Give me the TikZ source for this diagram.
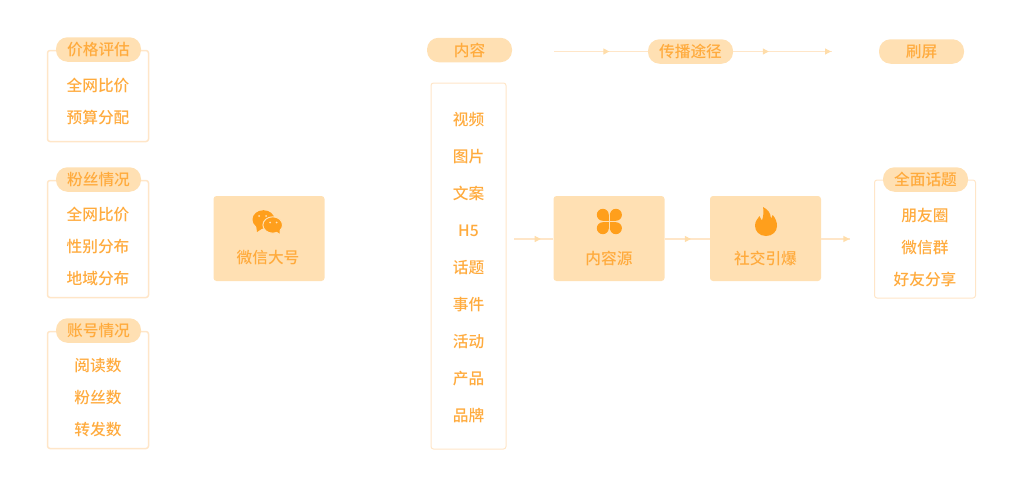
\documentclass[tikz,border=0pt]{standalone}
\usepackage{fontspec}
\setmainfont{Noto Sans CJK SC Medium}
\usetikzlibrary{decorations.markings,arrows.meta}
\definecolor{softfill}{HTML}{FFE0B3}
\definecolor{softline}{HTML}{FFE6C8}
\definecolor{softtip}{HTML}{FFDDAA}
\definecolor{labeltext}{HTML}{FFAB3D}
\definecolor{iconfill}{HTML}{FF9F1C}
\tikzset{
    x=1pt, y=-1pt,
    framebox/.style={draw=softline, line width=1.5pt, rounded corners=2.5pt, fill=white, inner sep=0pt},
    tagpill/.style={fill=softfill, rounded corners=11.5pt, minimum width=85pt, minimum height=24.5pt, inner sep=0pt, text=labeltext},
    mainbox/.style={fill=softfill, rounded corners=3pt, minimum width=111pt, minimum height=85pt, inner sep=0pt},
    itemtext/.style={text=labeltext, inner sep=0pt},
    flowline/.style={draw=softline, line width=1.2pt},
    midtip/.style={postaction={decorate, decoration={markings,
        mark=at position #1 with {\arrow[softtip]{Triangle[length=6pt,width=6pt]}}}}}
}
\newcommand{\textsizing}{\fontsize{15.7}{18}\selectfont}

\begin{document}
\begin{tikzpicture}[every node/.append style={font=\textsizing}]

    \useasboundingbox (0,0) rectangle (1024,479);

    % Left frames with their pills
    \node[framebox, minimum width=101pt, minimum height=91pt] (priceframe) at (98,96) {};
    \node[tagpill] (pricetag) at (98.5,49.5) {价格评估};
    \node[itemtext] (price1) at (98,86) {全网比价};
    \node[itemtext] (price2) at (98,118) {预算分配};

    \node[framebox, minimum width=101pt, minimum height=117pt] (fansframe) at (98,239) {};
    \node[tagpill] (fanstag) at (98.5,179.5) {粉丝情况};
    \foreach \i/\t/\y in {1/全网比价/215, 2/性别分布/247, 3/地域分布/279}{
        \node[itemtext] (fans\i) at (98,\y) {\t};
    }

    \node[framebox, minimum width=101pt, minimum height=117pt] (acctframe) at (98,390) {};
    \node[tagpill] (accttag) at (98.5,330.5) {账号情况};
    \foreach \i/\t/\y in {1/阅读数/366, 2/粉丝数/398, 3/转发数/430}{
        \node[itemtext] (acct\i) at (98,\y) {\t};
    }

    % Main boxes
    \node[mainbox] (wechatbox) at (269,238.5) {};
    \node[mainbox] (sourcebox) at (609,238.5) {};
    \node[mainbox] (burstbox) at (765.5,238.5) {};
    \node[itemtext] (wechatlabel) at (268,258) {微信大号};
    \node[itemtext] (sourcelabel) at (609,258) {内容源};
    \node[itemtext] (burstlabel) at (765.5,258) {社交引爆};

    % Content column
    \node[framebox, draw=softline, line width=1pt, minimum width=75pt, minimum height=366pt] (contentframe) at (468.5,266) {};
    \node[tagpill] (contenttag) at (469.5,50) {内容};
    \foreach \i/\t in {1/视频, 2/图片, 3/文案, 4/H5, 5/话题, 6/事件, 7/活动, 8/产品, 9/品牌}{
        \node[itemtext] (content\i) at (468.5,{119.5+37*(\i-1)}) {\t};
    }

    % Top row
    \node[tagpill] (pathtag) at (690.5,51.5) {传播途径};
    \node[tagpill] (scrolltag) at (921.5,51.5) {刷屏};
    \coordinate (pathstart) at (554,51.5);
    \coordinate (pathend) at (832,51.5);
    \draw[flowline, midtip=0.59] (pathstart) -- (pathtag.west);
    \draw[flowline, midtip=0.36, midtip=0.99] (pathtag.east) -- (pathend);

    % Right frame
    \node[framebox, line width=1pt, minimum width=101pt, minimum height=118pt] (topicframe) at (925,239) {};
    \node[tagpill] (topictag) at (925.5,179.5) {全面话题};
    \foreach \i/\t/\y in {1/朋友圈/216, 2/微信群/247.5, 3/好友分享/279}{
        \node[itemtext] (topic\i) at (925,\y) {\t};
    }

    % Flow connectors
    \coordinate (flowstart) at (514,239);
    \coordinate (flowend) at (850,239);
    \draw[flowline, midtip=0.68] (flowstart) -- (sourcebox.west |- flowstart);
    \draw[flowline, midtip=0.58] (sourcebox.east |- flowstart) -- (burstbox.west |- flowstart);
    \draw[flowline, midtip=0.98] (burstbox.east |- flowstart) -- (flowend);

    % Wechat icon
    \fill[iconfill] (263.5,219.5) ellipse (11pt and 9.3pt);
    \fill[iconfill] (256,225) -- (257,232) -- (263,228) -- cycle;
    \fill[iconfill, draw=softfill, line width=1pt] (272.7,225) ellipse (9.8pt and 8.2pt);
    \fill[iconfill] (276,231) -- (279.5,233.5) -- (279.5,228) -- cycle;
    \foreach \px/\py in {259/216, 266/216, 270/222.5, 276.5/222.5}{
        \fill[softfill] (\px,\py) circle (1pt);
    }

    % Clover icon
    \foreach \px/\py/\cx/\cy in {602.8/214.8/608.8/220.8, 615.9/214.8/609.9/220.8, 602.8/228.2/608.8/222.2, 615.9/228.2/609.9/222.2}{
        \fill[iconfill] (\px,\py) circle (6pt);
        \fill[iconfill] (\px,\py) rectangle (\cx,\cy);
    }

    % Flame icon
    \fill[iconfill] (766,236)
        .. controls (759,236) and (755,231) .. (755,225.5)
        .. controls (755,221) and (758,218.5) .. (759.5,216)
        .. controls (760.5,218) and (761,219.5) .. (762,220.5)
        .. controls (763.5,216) and (764,211) .. (763,207)
        .. controls (768,209.5) and (770.5,213) .. (771,218.5)
        .. controls (772,217.5) and (772.5,216.5) .. (772.7,215)
        .. controls (775.5,218) and (777,222) .. (777,226)
        .. controls (777,231.5) and (772.5,236) .. (766,236) -- cycle;

\end{tikzpicture}
\end{document}
